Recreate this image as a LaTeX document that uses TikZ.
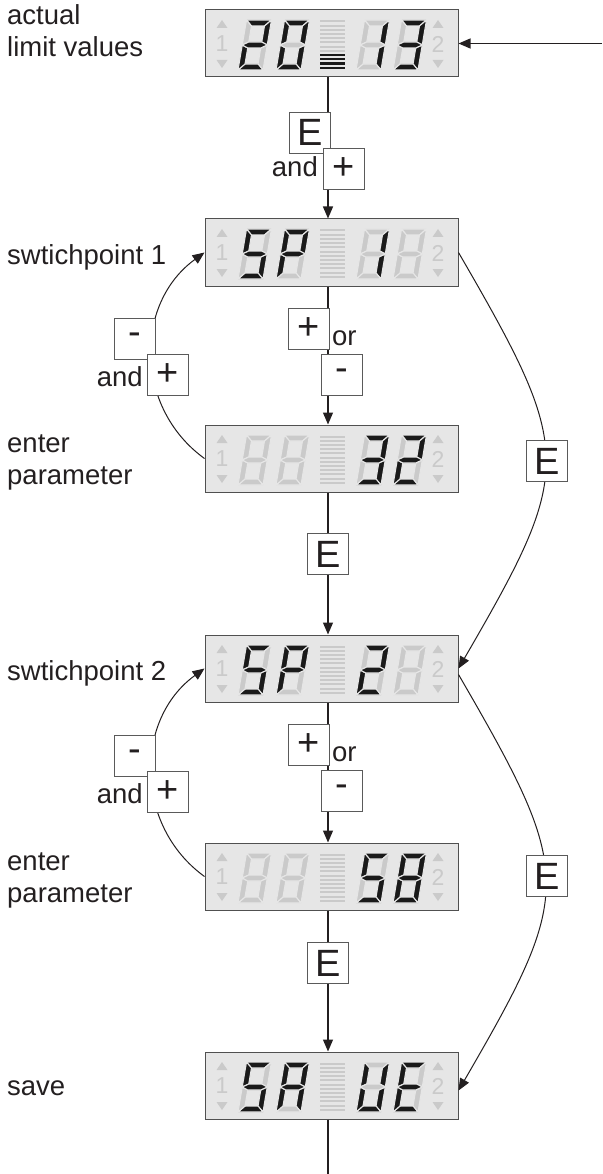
\documentclass[tikz,border=0pt]{standalone}
\usepackage{fontspec}
\setmainfont{Liberation Sans}
\usetikzlibrary{arrows.meta}
\definecolor{lcdbg}{HTML}{E6E6E6}
\definecolor{lcdborder}{HTML}{505050}
\definecolor{lcdoff}{HTML}{CACACA}
\definecolor{lcdon}{HTML}{1A1A1A}
\definecolor{linec}{HTML}{231F20}
\definecolor{keyborder}{HTML}{5A5A5A}
\tikzset{
  segon/.style={fill=lcdon, draw=lcdbg, line width=1.1pt},
  segoff/.style={fill=lcdoff, draw=lcdbg, line width=1.1pt},
  lcd/.style={draw=lcdborder, fill=lcdbg, minimum width=253pt, minimum height=67pt, inner sep=0pt, line width=1pt},
  ind/.style={fill=lcdoff},
  indtxt/.style={text=lcdoff, inner sep=0pt, font=\fontsize{23}{23}\selectfont},
  baroff/.style={draw=lcdoff, line width=2pt},
  baron/.style={draw=lcdon, line width=2.2pt},
  arr/.style={draw=linec, line width=1.2pt, -{Triangle[length=12pt,width=10pt]}},
  plain/.style={draw=linec, line width=1.2pt},
  curv/.style={draw=linec, line width=1pt, -{Triangle[length=12pt,width=10pt]}},
  key/.style={draw=keyborder, fill=white, minimum size=41pt, inner sep=0pt, line width=0.9pt, text=linec, font=\fontsize{38}{38}\selectfont},
  lbl/.style={inner sep=0pt, text=linec, font=\fontsize{27.5}{32}\selectfont},
}
\newcommand\lcdseg[2]{\ifnum#1=1 \filldraw[segon] #2;\else\filldraw[segoff] #2;\fi}
\def\lcdsegs#1#2#3#4#5#6#7{%
\lcdseg{#1}{(0,50)--(25,50)--(19,44)--(6,44)--cycle}%
\lcdseg{#2}{(25,50)--(25,25)--(19,28)--(19,44)--cycle}%
\lcdseg{#3}{(25,25)--(25,0)--(19,6)--(19,22)--cycle}%
\lcdseg{#4}{(0,0)--(25,0)--(19,6)--(6,6)--cycle}%
\lcdseg{#5}{(0,0)--(0,25)--(6,22)--(6,6)--cycle}%
\lcdseg{#6}{(0,50)--(0,25)--(6,28)--(6,44)--cycle}%
\lcdseg{#7}{(0,25)--(6,28)--(19,28)--(25,25)--(19,22)--(6,22)--cycle}}
\newcommand\lcdd[3]{\begin{scope}[shift={(#1,#2)},x=1pt,y=1pt,xslant=0.17]\lcdsegs#3\end{scope}}
\newcommand\lcdbox[7]{%
  \node[lcd] (#1) at (331.5,#2+33.5) {};
  \fill[ind] (216.5,#2+18)--(227.5,#2+18)--(222,#2+10)--cycle;
  \fill[ind] (216.5,#2+50)--(227.5,#2+50)--(222,#2+58)--cycle;
  \node[indtxt] (#1-l) at (222,#2+34) {1};
  \fill[ind] (432.5,#2+18)--(443.5,#2+18)--(438,#2+10)--cycle;
  \fill[ind] (432.5,#2+50)--(443.5,#2+50)--(438,#2+58)--cycle;
  \node[indtxt] (#1-r) at (438,#2+34) {2};
  \foreach \i in {0,...,11}{%
    \pgfmathsetmacro\yy{#2+11.5+4.2*\i}%
    \ifnum\i>\numexpr11-#7\relax \draw[baron] (320,\yy)--(345,\yy);\else \draw[baroff] (320,\yy)--(345,\yy);\fi}
  \lcdd{238}{#2+60}{#3}
  \lcdd{276}{#2+60}{#4}
  \lcdd{356}{#2+60}{#5}
  \lcdd{393}{#2+60}{#6}
}
\begin{document}
\begin{tikzpicture}[x=1pt,y=-1pt]
\useasboundingbox (0,0) rectangle (602,1174);
% displays: codes a b c d e f g
\lcdbox{d1}{10}{1101101}{1111110}{0110000}{1111001}{4}
\lcdbox{d2}{219}{1011011}{1100111}{0110000}{0000000}{0}
\lcdbox{d3}{425}{0000000}{0000000}{1111001}{1101101}{0}
\lcdbox{d4}{635}{1011011}{1100111}{1101101}{0000000}{0}
\lcdbox{d5}{843}{0000000}{0000000}{1011011}{1111111}{0}
\lcdbox{d6}{1052}{1011011}{1110111}{0111110}{1001111}{0}
% connectors
\coordinate (src) at (602,43.5);
\coordinate (out) at (328,1174);
\draw[arr] (src) -- (d1.east);
\draw[arr] ([xshift=-3.5pt]d1.south) -- ([xshift=-3.5pt]d2.north);
\draw[arr] ([xshift=-3.5pt]d2.south) -- ([xshift=-3.5pt]d3.north);
\draw[arr] ([xshift=-3.5pt]d3.south) -- ([xshift=-3.5pt]d4.north);
\draw[arr] ([xshift=-3.5pt]d4.south) -- ([xshift=-3.5pt]d5.north);
\draw[arr] ([xshift=-3.5pt]d5.south) -- ([xshift=-3.5pt]d6.north);
\draw[plain] ([xshift=-3.5pt]d6.south) -- (out);
\draw[curv] (d3.west) .. controls +(-70.3,-50.9) and +(-70.3,50.9) .. (d2.west);
\draw[curv] (d5.west) .. controls +(-70.3,-50.9) and +(-70.3,50.9) .. (d4.west);
\draw[curv] (d2.east) .. controls +(116,200) and +(116,-200) .. (d4.east);
\draw[curv] ([yshift=-6pt]d4.east) .. controls +(116,200) and +(116,-200) .. ([yshift=-5pt]d6.east);
% keys
\node[key] (kE1) at (310,132.5) {E};
\node[key] (kP1) at (343.5,168.5) {+};
\node[key] (kP2) at (308.5,328.5) {+};
\node[key] (kM2) at (341.5,375) {-};
\node[key] (kM3) at (135,338.5) {-};
\node[key] (kP3) at (167.5,374.5) {+};
\node[key] (kE3) at (547,461) {E};
\node[key] (kE4) at (328,554) {E};
\node[key] (kP5) at (308.5,744.5) {+};
\node[key] (kM5) at (341.5,791) {-};
\node[key] (kM6) at (135,755.5) {-};
\node[key] (kP6) at (167.5,791.5) {+};
\node[key] (kE6) at (547,876) {E};
\node[key] (kE7) at (328,963) {E};
% labels
\node[lbl, anchor=base west] (t1) at (7,25) {actual};
\node[lbl, anchor=base west] (t2) at (7,57) {limit values};
\node[lbl, anchor=base east] (a1) at (318,177) {and};
\node[lbl, anchor=base west] (t3) at (7,264) {swtichpoint 1};
\node[lbl, anchor=base east] (a2) at (143,386) {and};
\node[lbl, anchor=base west] (o1) at (332,345) {or};
\node[lbl, anchor=base west] (t4) at (7,452) {enter};
\node[lbl, anchor=base west] (t5) at (7,484) {parameter};
\node[lbl, anchor=base west] (t6) at (7,680) {swtichpoint 2};
\node[lbl, anchor=base east] (a3) at (143,803) {and};
\node[lbl, anchor=base west] (o2) at (332,761) {or};
\node[lbl, anchor=base west] (t7) at (7,870) {enter};
\node[lbl, anchor=base west] (t8) at (7,902) {parameter};
\node[lbl, anchor=base west] (t9) at (7,1095) {save};
\end{tikzpicture}
\end{document}
